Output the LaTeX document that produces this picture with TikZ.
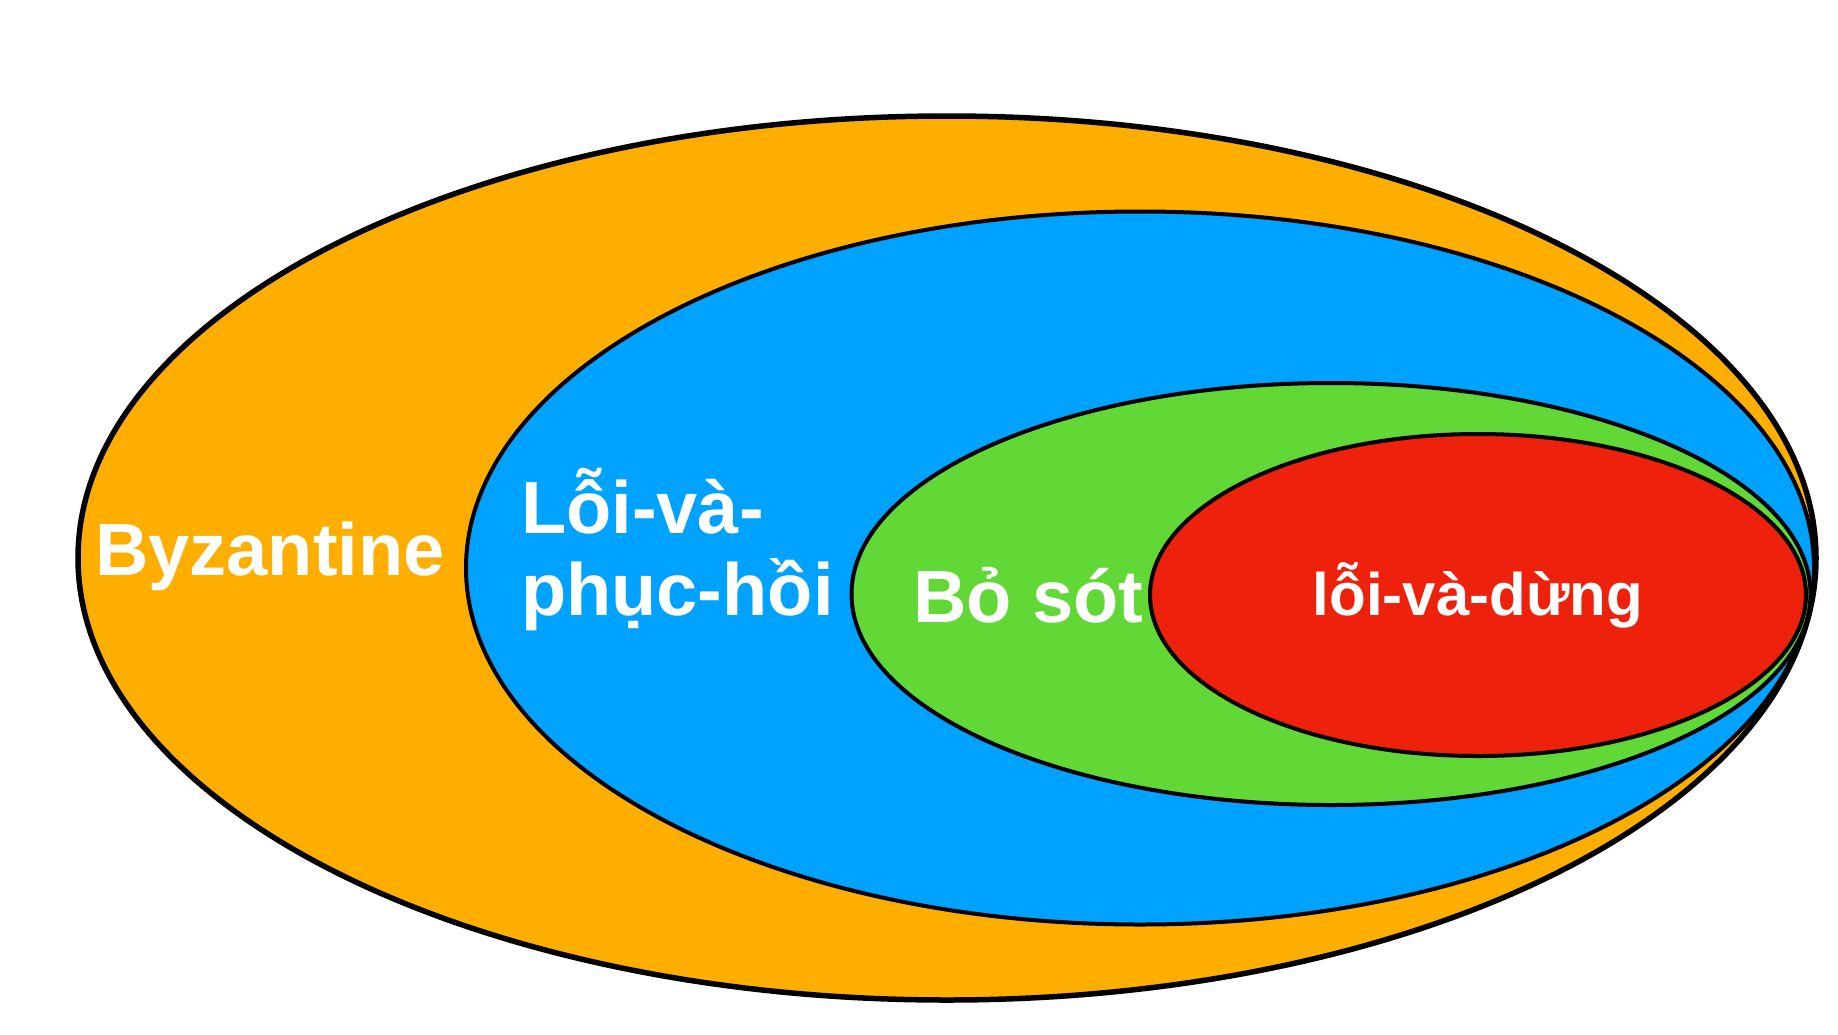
\documentclass[tikz,border=0pt]{standalone}
\usepackage{fontspec}
\setmainfont{Liberation Sans}
\usetikzlibrary{shapes.geometric}

\definecolor{byzorange}{RGB}{254,174,0}
\definecolor{recblue}{RGB}{0,162,255}
\definecolor{omitgreen}{RGB}{97,216,54}
\definecolor{stopred}{RGB}{238,34,12}

\tikzset{
    faultset/.style={ellipse, draw, line width=4pt, inner sep=0pt, outer sep=0pt},
    faultname/.style={text=white, inner sep=0pt, font=\bfseries\fontsize{74}{82}\selectfont}
}

\begin{document}
\begin{tikzpicture}[x=1pt, y=-1pt]
    \useasboundingbox (0, 0) rectangle (1838, 1034);
    \path (947, 558) node [faultset, fill=byzorange, line width=5.5pt,
	minimum width=1738pt, minimum height=884pt] (byz) {};
    \path (1140, 568) node [faultset, fill=recblue,
	minimum width=1348pt, minimum height=713pt] (rec) {};
    \path (1331, 594) node [faultset, fill=omitgreen,
	minimum width=959pt, minimum height=422pt] (omit) {};
    \path (1478, 595) node [faultset, fill=stopred,
	minimum width=656pt, minimum height=322pt] (stop) {};

    \path (95, 575) node [faultname, anchor=base west] (byzname) {Byzantine};
    \path (521, 615) node [faultname, anchor=base west, align=left] (recname)
	{Lỗi-và-\\phục-hồi};
    \path (913, 622) node [faultname, anchor=base west] (omitname) {Bỏ sót};
    \path (1478, 615) node [faultname, anchor=base, font=\bfseries\fontsize{60}{70}\selectfont]
	(stopname) {lỗi-và-dừng};
\end{tikzpicture}
\end{document}
